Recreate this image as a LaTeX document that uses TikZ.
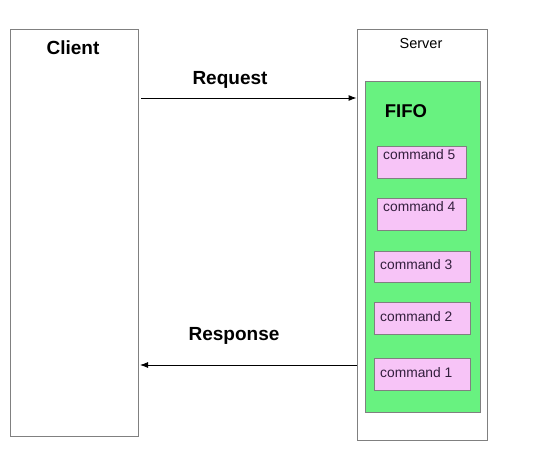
\documentclass[tikz,border=0pt]{standalone}
\usepackage{fontspec}
\setmainfont{Liberation Sans}
\usetikzlibrary{arrows.meta}
\definecolor{fifogreen}{RGB}{104,242,128}
\definecolor{cmdpink}{RGB}{247,196,247}
\definecolor{boxgray}{RGB}{128,128,128}
\definecolor{cmdtext}{RGB}{50,30,60}
\begin{document}
\begin{tikzpicture}[x=1pt,y=-1pt,
  box/.style={draw=boxgray,line width=0.9pt,rectangle,inner sep=0pt},
  cmdbox/.style={box,fill=cmdpink},
  cmdlabel/.style={anchor=west,inner sep=0pt,font=\fontsize{13.8}{14}\selectfont,text=cmdtext},
  bigtitle/.style={inner sep=0pt,font=\fontsize{19}{20}\selectfont\bfseries},
  msg/.style={line width=0.9pt,-{Latex[length=8pt,width=6pt]}}
]
\useasboundingbox (0,0) rectangle (534,461);
\fill[white] (0,0) rectangle (534,461);
\node[box,minimum width=128pt,minimum height=407pt] (client) at (74,232.5) {};
\node[box,minimum width=130pt,minimum height=411pt] (server) at (422,234.5) {};
\node[box,fill=fifogreen,minimum width=115pt,minimum height=331pt] (fifo) at (422.5,246.5) {};
\node[bigtitle] (clientlbl) at (73,48) {Client};
\node[inner sep=0pt,font=\fontsize{14.5}{15}\selectfont] (serverlbl) at (421,44) {Server};
\node[inner sep=0pt,font=\fontsize{18.5}{19}\selectfont\bfseries] (fifolbl) at (406,111) {FIFO};
\node[cmdbox,minimum width=89pt,minimum height=32pt] (c5) at (421.5,162) {};
\node[cmdbox,minimum width=89pt,minimum height=32pt] (c4) at (421.5,214) {};
\node[cmdbox,minimum width=96pt,minimum height=31pt] (c3) at (422,266.5) {};
\node[cmdbox,minimum width=96pt,minimum height=32pt] (c2) at (422,318) {};
\node[cmdbox,minimum width=96pt,minimum height=32pt] (c1) at (422,374) {};
\node[cmdlabel] (t5) at (383,155) {command 5};
\node[cmdlabel] (t4) at (383,207) {command 4};
\node[cmdlabel] (t3) at (380,265) {command 3};
\node[cmdlabel] (t2) at (380,317) {command 2};
\node[cmdlabel] (t1) at (380,373) {command 1};
\coordinate (reqS) at (141,98);
\coordinate (resE) at (140,365);
\coordinate (resS) at (357,365);
\draw[msg] (reqS) -- (server.west |- reqS);
\draw[msg] (resS) -- (resE);
\node[bigtitle] (reqlbl) at (230,80) {Request};
\node[bigtitle] (reslbl) at (234,336) {Response};
\end{tikzpicture}
\end{document}
